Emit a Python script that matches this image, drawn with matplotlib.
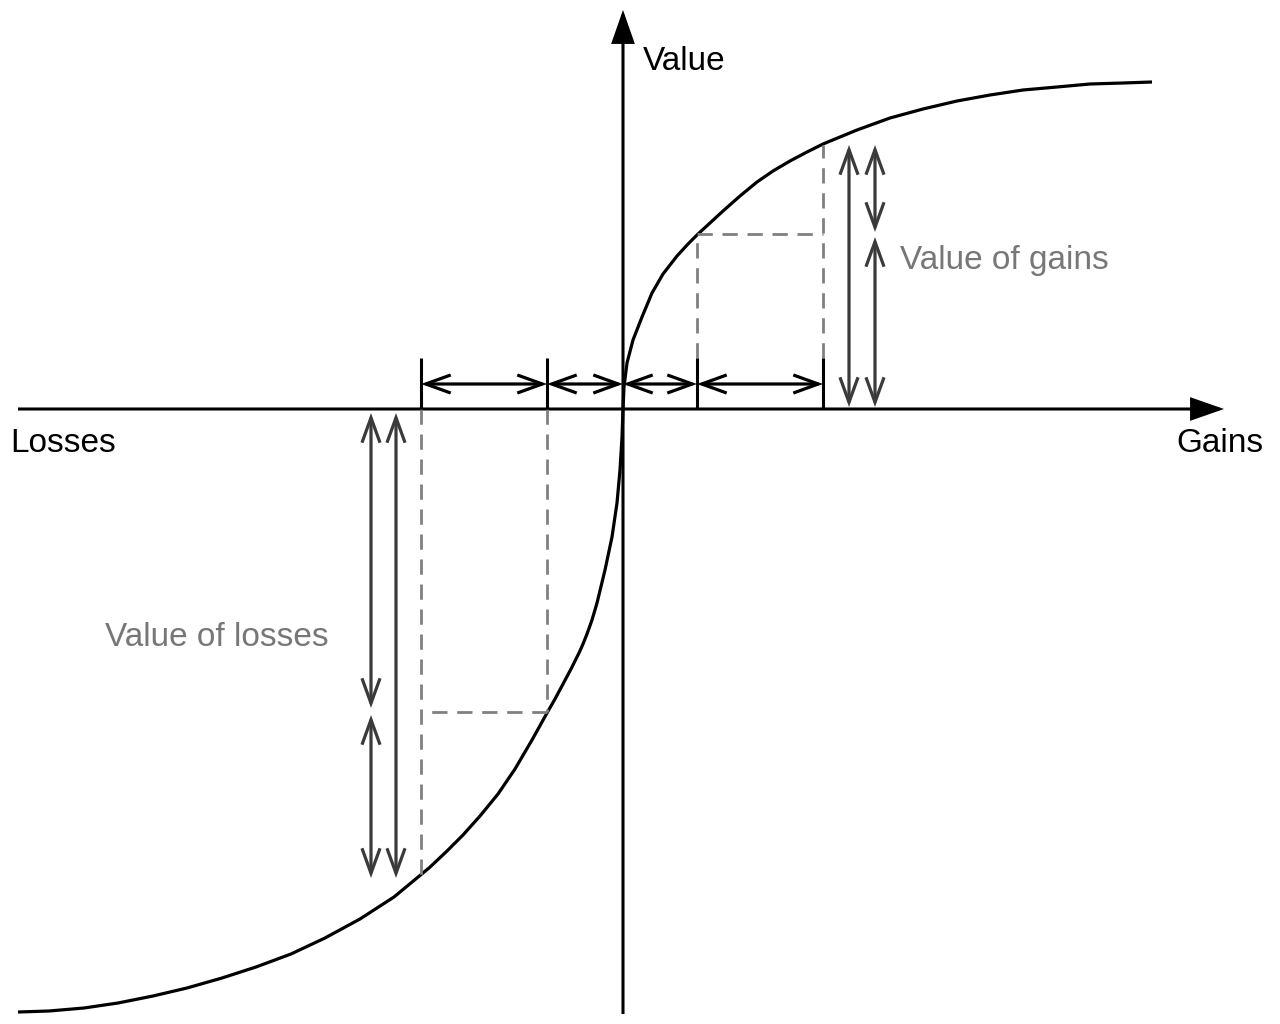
import matplotlib
matplotlib.use("Agg")
import matplotlib.pyplot as plt
from matplotlib.patches import FancyArrowPatch

plt.rcParams['font.family'] = ['Liberation Sans', 'DejaVu Sans']

# Value function (x = outcome, y = value; origin at reference point)
gains_x = [0, 1, 4, 10, 19, 29, 40, 54, 65, 75, 87, 100, 117, 134, 150, 167, 184, 200, 234, 267, 300,
           334, 367, 400, 434, 467, 500, 529]
gains_y = [0, 22, 46, 69, 92, 116, 135, 153, 165, 175, 186, 198, 213, 227, 238, 248, 257, 265, 279, 291, 300,
           308, 314, 319, 322, 325, 326, 327]
losses_x = [0, -1, -3, -6, -11, -18, -26, -31, -36, -40, -44, -52, -60, -68, -76, -91, -108, -125, -143, -160,
            -177, -194, -229, -263, -298, -332, -367, -401, -436, -470, -505, -539, -574, -605]
losses_y = [0, -28, -61, -94, -128, -161, -194, -211, -225, -235, -244, -260, -275, -290, -304, -331, -360,
            -385, -407, -426, -443, -459, -488, -510, -529, -545, -558, -569, -579, -587, -594, -599, -602, -603]

# Outcome steps marked on the axis
gain_steps = [0, 74, 200]
loss_steps = [0, -76, -202]
gain_values = [0, 175, 264]
loss_values = [0, -303, -466]

labels = {"x_neg": "Losses", "x_pos": "Gains", "y": "Value",
          "gains": "Value of gains", "losses": "Value of losses"}

fig = plt.figure(figsize=(12.8, 10.24), dpi=100)
ax = fig.add_axes([0, 0, 1, 1])
ax.set_xlim(-623, 657)
ax.set_ylim(-615, 409)
ax.axis('off')

def arrow(p0, p1, style, color, lw):
    a = FancyArrowPatch(p0, p1, arrowstyle=style, mutation_scale=1, color=color,
                        lw=lw, shrinkA=0, shrinkB=0, joinstyle='miter', capstyle='butt')
    ax.add_patch(a)

# axes
arrow((-605, 0), (601, 0), '-|>,head_length=20,head_width=7', 'black', 2.2)
arrow((0, -605), (0, 399), '-|>,head_length=20,head_width=7', 'black', 2.2)

# curve
ax.plot(losses_x[::-1] + gains_x[1:], losses_y[::-1] + gains_y[1:], color='black', lw=2.3,
        solid_joinstyle='round', solid_capstyle='butt')

dash_col = '#808080'
dash_kw = dict(color=dash_col, lw=2, dashes=(5.5, 3.5))
tick_top = 51

# gains dashed box
ax.plot([gain_steps[1], gain_steps[1]], [tick_top, gain_values[1]], **dash_kw)
ax.plot([gain_steps[1], gain_steps[2]], [gain_values[1], gain_values[1]], **dash_kw)
ax.plot([gain_steps[2], gain_steps[2]], [tick_top, gain_values[2]], **dash_kw)
# losses dashed box
ax.plot([loss_steps[1], loss_steps[1]], [0, loss_values[1]], **dash_kw)
ax.plot([loss_steps[1], loss_steps[2]], [loss_values[1], loss_values[1]], **dash_kw)
ax.plot([loss_steps[2], loss_steps[2]], [0, loss_values[2]], **dash_kw)

# solid ticks
for xs in gain_steps[1:] + loss_steps[1:]:
    ax.plot([xs, xs], [0, tick_top], color='black', lw=2.2, solid_capstyle='butt')

# horizontal double arrows
hy = 25
open_style = '<->,head_length=18,head_width=6.5'
steps = sorted(loss_steps + gain_steps[1:])
for a0, a1 in zip(steps[:-1], steps[1:]):
    arrow((a0, hy), (a1, hy), open_style, 'black', 2.3)

# vertical double arrows (gains)
vcol = '#3a3a3a'
g_out, g_in = 226, 252
arrow((g_out, 2), (g_out, gain_values[2]), open_style, vcol, 2.3)
arrow((g_in, gain_values[1] + 2), (g_in, gain_values[2]), open_style, vcol, 2.3)
arrow((g_in, 2), (g_in, gain_values[1] - 3), open_style, vcol, 2.3)
# vertical double arrows (losses)
l_out, l_in = -252, -227
arrow((l_out, -4), (l_out, loss_values[1] + 4), open_style, vcol, 2.3)
arrow((l_out, loss_values[1] - 3), (l_out, -469), open_style, vcol, 2.3)
arrow((l_in, -4), (l_in, -469), open_style, vcol, 2.3)

fs = 24
ax.text(-613, -35, labels["x_neg"], fontsize=fs, ha='left', va='center', color='black')
ax.text(640, -35, labels["x_pos"], fontsize=fs, ha='right', va='center', color='black')
ax.text(20, 348, labels["y"], fontsize=fs, ha='left', va='center', color='black')
ax.text(277, 148, labels["gains"], fontsize=fs, ha='left', va='center', color='#777777')
ax.text(-518, -229, labels["losses"], fontsize=fs, ha='left', va='center', color='#777777')

fig.savefig('out.png', dpi=100)
